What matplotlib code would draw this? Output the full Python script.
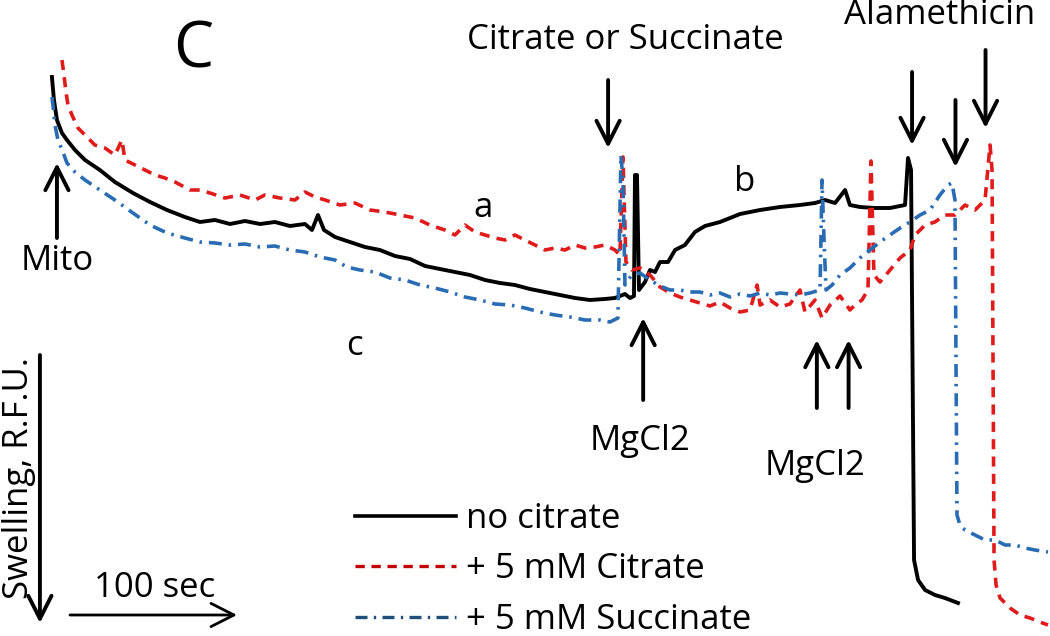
import matplotlib.pyplot as plt
from matplotlib.lines import Line2D

plt.rcParams['font.family'] = ['Open Sans', 'DejaVu Sans']

# time in seconds, swelling in R.F.U. (swelling grows downward)
no_citrate_t = [0, 1.2, 3.0, 6.0, 9.0, 13.8, 19.8, 28.7, 37.7, 48.5, 58.7, 68.9,
                79.6, 88.6, 97.6, 106.6, 115.6, 124.6, 133.5, 142.5, 151.5, 155.7,
                159.3, 162.9, 169.5, 178.4, 187.4, 196.4, 205.4, 214.4, 223.4,
                232.3, 241.3, 250.3, 259.3, 268.3, 277.2, 286.2, 295.2, 304.2,
                313.2, 322.2, 331.1, 337.1, 343.1, 346.1, 348.5, 349.1, 350.3,
                351.5, 355.1, 358.1, 361.1, 364.1, 368.9, 373.1, 379.0, 385.0,
                391.0, 400.0, 412.0, 424.0, 435.9, 447.9, 456.9, 462.9, 468.9,
                474.9, 477.8, 483.8, 492.8, 501.8, 510.8, 512.6, 514.4, 516.2,
                518.6, 522.8, 528.7, 534.7, 542.5]
no_citrate_y = [77, 100, 120, 133, 140, 150, 160, 170, 182, 193, 202, 210,
                217, 222, 220, 224, 221, 224, 222, 226, 224, 230,
                215, 230, 237, 242, 247, 250, 256, 259, 266,
                269, 272, 275, 280, 283, 285, 289, 292, 295,
                298, 300, 299, 298, 294, 298, 296, 175, 175,
                290, 282, 270, 272, 262, 262, 250, 245, 232,
                226, 222, 214, 210, 207, 205, 203, 200, 203,
                190, 205, 207, 208, 208, 205, 158, 170, 560,
                580, 590, 595, 598, 603]

citrate_t = [6.0, 7.2, 8.4, 9.6, 12.0, 15.6, 19.8, 25.7, 31.7, 37.7, 41.9, 43.7,
             49.7, 55.7, 61.7, 67.7, 73.7, 82.6, 88.6, 94.6, 103.6, 112.6, 121.6,
             127.5, 136.5, 145.5, 151.5, 157.5, 163.5, 172.5, 181.4, 190.4, 199.4,
             208.4, 217.4, 226.3, 235.3, 241.3, 247.3, 253.3, 259.3, 265.3, 271.3,
             277.2, 283.2, 289.2, 295.2, 301.2, 307.2, 313.2, 319.2, 325.1, 331.1,
             337.1, 340.1, 341.9, 343.7, 347.3, 352.1, 358.1, 364.1, 370.1, 376.0,
             382.0, 388.0, 394.0, 400.0, 406.0, 412.0, 418.0, 422.2, 424.0, 429.9,
             435.9, 441.9, 447.9, 450.9, 456.9, 461.1, 465.9, 471.9, 477.8, 480.8,
             485.0, 488.6, 490.4, 492.2, 495.8, 501.8, 507.8, 513.8, 516.8, 522.8,
             528.7, 534.7, 540.7, 546.7, 552.7, 558.7, 561.7, 562.9, 564.1, 565.3,
             567.7, 573.7, 579.6, 585.6, 591.6, 596.4]
citrate_y = [60, 75, 92, 105, 115, 128, 135, 145, 148, 155, 140, 160,
             165, 170, 175, 178, 182, 190, 190, 193, 198, 195, 200,
             195, 198, 200, 192, 197, 200, 205, 203, 210, 212,
             215, 218, 225, 230, 235, 225, 232, 235, 238, 240,
             235, 240, 245, 250, 248, 250, 245, 248, 247, 245,
             250, 255, 157, 262, 270, 268, 275, 287, 293, 297,
             300, 303, 306, 302, 308, 312, 310, 285, 305, 300,
             307, 304, 290, 312, 300, 318, 305, 296, 310, 305,
             300, 290, 161, 275, 282, 270, 258, 250, 235, 225,
             222, 215, 215, 205, 210, 200, 145, 170, 560, 585,
             598, 608, 615, 618, 622, 625]

succinate_t = [0, 0.6, 1.8, 3.6, 6.6, 9.0, 13.8, 19.8, 28.7, 37.7, 48.5, 58.7,
               68.9, 79.6, 88.6, 97.6, 106.6, 115.6, 124.6, 133.5, 142.5, 151.5,
               160.5, 169.5, 176.6, 184.4, 193.4, 202.4, 211.4, 220.4, 229.3,
               238.3, 247.3, 256.3, 265.3, 274.3, 283.2, 292.2, 301.2, 310.2,
               319.2, 328.1, 334.1, 338.9, 340.7, 341.9, 343.1, 344.9, 347.3,
               352.1, 358.1, 364.1, 370.1, 376.0, 382.0, 388.0, 394.0, 400.0,
               406.0, 412.0, 418.0, 424.0, 429.9, 435.9, 441.9, 447.9, 453.9,
               459.9, 461.1, 462.3, 463.5, 467.1, 471.9, 477.8, 483.8, 489.8,
               495.8, 501.8, 507.8, 513.8, 519.8, 525.7, 531.7, 536.5, 538.9,
               540.7, 541.9, 543.7, 546.7, 552.7, 558.7, 564.7, 570.7, 576.6,
               582.6, 588.6, 596.4]
succinate_y = [97, 105, 125, 140, 152, 163, 172, 180, 190, 200, 213, 225,
               233, 238, 242, 243, 245, 244, 247, 246, 250, 252,
               257, 260, 267, 270, 272, 278, 280, 285, 288,
               292, 297, 300, 304, 305, 308, 312, 315, 317,
               320, 320, 322, 318, 155, 180, 285, 280, 275,
               273, 280, 286, 290, 290, 292, 292, 295, 293,
               297, 294, 296, 293, 295, 293, 294, 295, 293,
               290, 180, 240, 290, 285, 275, 268, 258, 250,
               242, 235, 228, 222, 215, 210, 195, 185, 183,
               200, 515, 525, 530, 535, 540, 540, 545, 545,
               548, 550, 552]

mito_t = 3
substrate_t = 333
mgcl2_t = [354, 458, 477]
alamethicin_t = [515, 541, 559]

RED = '#e01b1b'
BLUE = '#2a6cb3'
DASHED = (0, (2.8, 2.0))
DASHDOT = (0, (3.6, 1.9, 0.7, 1.9))

fig = plt.figure(figsize=(10.5, 6.36), dpi=100)
ax = fig.add_axes([0, 0, 1, 1])
ax.set_xlim(-31.1, 597.6)
ax.set_ylim(636, 0)
ax.axis('off')

ax.plot(no_citrate_t, no_citrate_y, color='black', lw=2.8, solid_joinstyle='round')
ax.plot(citrate_t, citrate_y, color=RED, lw=2.6, linestyle=DASHED)
ax.plot(succinate_t, succinate_y, color=BLUE, lw=2.6, linestyle=DASHDOT)

arrow = dict(arrowstyle='->,head_length=0.75,head_width=0.38', lw=2.8,
             color='black', mutation_scale=22, shrinkA=0, shrinkB=0)


def add_arrow(t, y_tail, y_head):
    ax.annotate('', xy=(t, y_head), xytext=(t, y_tail), arrowprops=arrow)


add_arrow(mito_t, 238, 163)
add_arrow(substrate_t, 80, 148)
add_arrow(mgcl2_t[0], 400, 318)
add_arrow(mgcl2_t[1], 408, 340)
add_arrow(mgcl2_t[2], 408, 340)
add_arrow(alamethicin_t[0], 72, 145)
add_arrow(alamethicin_t[1], 100, 167)
add_arrow(alamethicin_t[2], 50, 128)

fs = 25
ax.text(84.4, 50, 'C', fontsize=46, ha='center', va='center')
ax.text(343.1, 40, 'Citrate or Succinate', fontsize=fs, ha='center', va='center')
ax.text(531.7, 15, 'Alamethicin', fontsize=fs, ha='center', va='center')
ax.text(3.0, 261, 'Mito', fontsize=fs, ha='center', va='center')
ax.text(258.1, 208, 'a', fontsize=fs, ha='center', va='center')
ax.text(415.0, 182, 'b', fontsize=fs, ha='center', va='center')
ax.text(181.4, 346, 'c', fontsize=fs, ha='center', va='center')
ax.text(352.1, 441, 'MgCl2', fontsize=fs, ha='center', va='center')
ax.text(456.9, 466, 'MgCl2', fontsize=fs, ha='center', va='center')

# scale bars
ax.text(-20.0, 478, 'Swelling, R.F.U.', fontsize=fs, rotation=90,
        ha='center', va='center')
ax.annotate('', xy=(-7.2, 623), xytext=(-7.2, 355), arrowprops=arrow)
ax.text(61.7, 588, '100 sec', fontsize=fs, ha='center', va='center')
ax.annotate('', xy=(110.8, 615), xytext=(10.8, 615),
            arrowprops=dict(arrow, lw=2.0))

handles = [
    Line2D([], [], color='black', lw=2.6),
    Line2D([], [], color='#c00000', lw=2.4, linestyle=DASHED),
    Line2D([], [], color='#1f4e79', lw=2.4, linestyle=DASHDOT),
]
labels = ['no citrate', '+ 5 mM Citrate', '+ 5 mM Succinate']
ax.legend(handles, labels, loc='upper left', bbox_to_anchor=(0.338, 0.211),
          frameon=False, fontsize=fs, handlelength=2.9, handletextpad=0.3,
          labelspacing=0.48, borderpad=0, borderaxespad=0)

fig.savefig('out.png', dpi=100)
